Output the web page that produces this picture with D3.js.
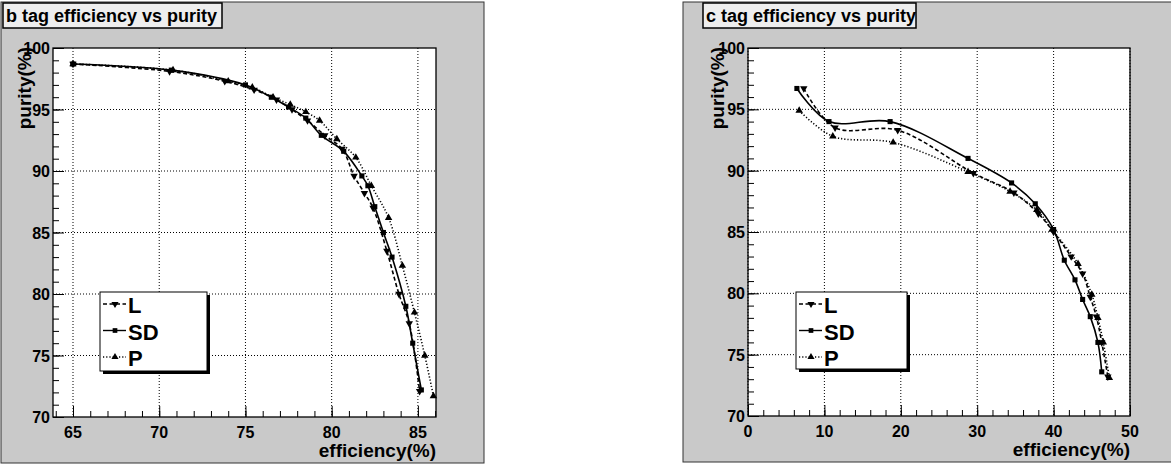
<!DOCTYPE html>
<html>
<head>
<meta charset="utf-8">
<script src="https://cdn.jsdelivr.net/npm/d3@7"></script>
<style>
  body { margin: 0; background: #fff; }
  text { font-family: "Liberation Sans", Arial, sans-serif; font-weight: bold; fill: #000; }
</style>
</head>
<body>
<svg id="chart" width="1171" height="466"></svg>
<script>
// b tag panel values
var bEffL  = [65.0, 70.6, 73.8, 75.5, 76.8, 77.7, 78.6, 79.6, 80.6, 81.3, 81.9, 82.4, 83.2, 83.9, 84.5, 85.1];
var bPurL  = [98.7, 98.1, 97.3, 96.6, 95.8, 95.0, 94.1, 92.9, 91.8, 89.6, 88.2, 87.0, 83.5, 80.0, 77.6, 72.1];
var bEffSD = [65.0, 70.7, 75.0, 76.5, 77.5, 78.5, 79.4, 80.7, 81.75, 82.1, 82.5, 83.0, 83.5, 84.3, 84.7, 85.2];
var bPurSD = [98.7, 98.2, 97.0, 96.0, 95.2, 94.3, 92.9, 91.6, 89.6, 88.8, 87.1, 85.0, 83.0, 79.0, 76.0, 72.2];
var bEffP  = [65.0, 70.8, 74.0, 75.4, 76.6, 77.6, 78.5, 79.3, 80.3, 81.4, 82.3, 83.3, 84.1, 84.8, 85.4, 85.9];
var bPurP  = [98.7, 98.2, 97.3, 96.8, 96.0, 95.4, 94.8, 94.1, 92.6, 91.1, 88.8, 86.2, 82.3, 78.5, 75.0, 71.7];

// c tag panel values
var cEffL  = [7.3, 11.4, 19.6, 29.5, 34.8, 38.0, 40.0, 42.3, 43.8, 44.8, 45.6, 46.3, 47.1];
var cPurL  = [96.7, 93.5, 93.3, 89.8, 88.2, 86.5, 85.0, 83.0, 81.6, 79.7, 78.1, 76.0, 73.2];
var cEffSD = [6.4, 10.6, 18.6, 28.8, 34.5, 37.6, 40.0, 41.4, 42.8, 43.8, 44.8, 45.8, 46.3];
var cPurSD = [96.7, 94.0, 94.0, 91.0, 89.0, 87.3, 85.2, 82.7, 81.1, 79.5, 78.1, 76.0, 73.6];
var cEffP  = [6.7, 11.1, 19.0, 28.8, 34.3, 37.8, 39.8, 43.2, 45.0, 45.8, 46.5, 47.3];
var cPurP  = [94.9, 92.8, 92.3, 89.9, 88.3, 86.8, 85.2, 82.4, 79.9, 78.0, 76.0, 73.1];

// tick labels
var bTicksX = [65, 70, 75, 80, 85];
var cTicksX = [0, 10, 20, 30, 40, 50];
var purTicks = [70, 75, 80, 85, 90, 95, 100];
var seriesNames = ["L", "SD", "P"];

var svg = d3.select("#chart");

var styles = {
  L:  { dash: "4,2.5", marker: d3.symbolTriangle, rot: 180 },
  SD: { dash: null,    marker: d3.symbolSquare,   rot: 0 },
  P:  { dash: "1.2,2", marker: d3.symbolTriangle, rot: 0 }
};

function drawPanel(cfg) {
  var g = svg.append("g");

  // canvas
  g.append("rect")
    .attr("x", cfg.canvas[0]).attr("y", cfg.canvas[1])
    .attr("width", cfg.canvas[2]).attr("height", cfg.canvas[3])
    .attr("fill", "#c9c9c9")
    .attr("stroke", "#333").attr("stroke-width", 1);

  var x = d3.scaleLinear().domain(cfg.xDomain).range([cfg.frame[0], cfg.frame[1]]);
  var y = d3.scaleLinear().domain([70, 100]).range([cfg.frame[3], cfg.frame[2]]);

  // frame
  g.append("rect")
    .attr("x", cfg.frame[0]).attr("y", cfg.frame[2])
    .attr("width", cfg.frame[1] - cfg.frame[0]).attr("height", cfg.frame[3] - cfg.frame[2])
    .attr("fill", "#fff");

  // grid
  g.selectAll(".gx").data(cfg.ticksX).enter().append("line")
    .attr("x1", d => x(d)).attr("x2", d => x(d))
    .attr("y1", cfg.frame[2]).attr("y2", cfg.frame[3])
    .attr("stroke", "#000").attr("stroke-width", 1).attr("stroke-dasharray", "1,2");
  g.selectAll(".gy").data(purTicks.slice(1, -1)).enter().append("line")
    .attr("x1", cfg.frame[0]).attr("x2", cfg.frame[1])
    .attr("y1", d => y(d)).attr("y2", d => y(d))
    .attr("stroke", "#000").attr("stroke-width", 1).attr("stroke-dasharray", "1,2");

  // axes with inward ticks
  var minorX = d3.range(cfg.xDomain[0], cfg.xDomain[1] + 0.001, cfg.minorStep)
    .map(d => Math.ceil(d / cfg.minorStep) * cfg.minorStep)
    .filter(d => d >= cfg.xDomain[0] && d <= cfg.xDomain[1]);
  var xAxis = d3.axisTop(x).tickValues(minorX).tickSize(6).tickFormat("");
  g.append("g")
    .attr("transform", "translate(0," + cfg.frame[3] + ")")
    .call(xAxis)
    .call(a => a.select(".domain").remove())
    .selectAll("line").attr("stroke", "#000");
  g.append("g")
    .attr("transform", "translate(0," + cfg.frame[3] + ")")
    .call(d3.axisTop(x).tickValues(cfg.ticksX).tickSize(11).tickFormat(""))
    .call(a => a.select(".domain").remove())
    .selectAll("line").attr("stroke", "#000");

  var yAxis = d3.axisRight(y).tickValues(d3.range(70, 101, 1)).tickSize(6).tickFormat("");
  g.append("g")
    .attr("transform", "translate(" + cfg.frame[0] + ",0)")
    .call(yAxis)
    .call(a => a.select(".domain").remove())
    .selectAll("line").attr("stroke", "#000");
  g.append("g")
    .attr("transform", "translate(" + cfg.frame[0] + ",0)")
    .call(d3.axisRight(y).tickValues(purTicks).tickSize(11).tickFormat(""))
    .call(a => a.select(".domain").remove())
    .selectAll("line").attr("stroke", "#000");

  // frame border
  g.append("rect")
    .attr("x", cfg.frame[0]).attr("y", cfg.frame[2])
    .attr("width", cfg.frame[1] - cfg.frame[0]).attr("height", cfg.frame[3] - cfg.frame[2])
    .attr("fill", "none").attr("stroke", "#000").attr("stroke-width", 1.3);

  // tick labels
  g.selectAll(".xl").data(cfg.ticksX).enter().append("text")
    .attr("x", d => x(d)).attr("y", cfg.frame[3] + 21)
    .attr("text-anchor", "middle")
    .style("font-size", "16px")
    .text(d => d);
  g.selectAll(".yl").data(purTicks).enter().append("text")
    .attr("x", cfg.frame[0] - 3).attr("y", d => y(d) + 6)
    .attr("text-anchor", "end")
    .style("font-size", "16px")
    .text(d => d);

  // axis titles
  g.append("text")
    .attr("x", cfg.frame[1]).attr("y", cfg.frame[3] + 40)
    .attr("text-anchor", "end")
    .style("font-size", "19px")
    .text("efficiency(%)");
  g.append("text")
    .attr("transform", "translate(" + (cfg.canvas[0] + cfg.ytitleX) + "," + (cfg.frame[2] - 1) + ") rotate(-90)")
    .attr("text-anchor", "end")
    .style("font-size", "19px")
    .text("purity(%)");

  // curves
  var line = d3.line()
    .x(d => x(d[0])).y(d => y(d[1]))
    .curve(d3.curveCatmullRom.alpha(0.5));

  cfg.series.forEach(function (s) {
    var st = styles[s.name];
    var pts = s.eff.map((e, i) => [e, s.pur[i]]);
    g.append("path")
      .datum(pts)
      .attr("d", line)
      .attr("fill", "none")
      .attr("stroke", "#000")
      .attr("stroke-width", 1.6)
      .attr("stroke-dasharray", st.dash);
    g.selectAll(null).data(pts).enter().append("path")
      .attr("d", d3.symbol().type(st.marker).size(s.name == "SD" ? 26 : 24))
      .attr("transform", d => "translate(" + x(d[0]) + "," + y(d[1]) + ") rotate(" + st.rot + ")")
      .attr("fill", "#000");
  });

  // title box
  var tb = cfg.titleBox;
  g.append("rect")
    .attr("x", tb[0]).attr("y", tb[1]).attr("width", tb[2]).attr("height", tb[3])
    .attr("fill", "#eeeeee").attr("stroke", "#000").attr("stroke-width", 1.5);
  g.append("text")
    .attr("x", tb[0] + 3).attr("y", tb[1] + 19)
    .style("font-size", "18px")
    .text(cfg.title);

  // legend
  var lb = cfg.legend;
  g.append("rect")
    .attr("x", lb[0] + 3).attr("y", lb[1] + 3).attr("width", lb[2]).attr("height", lb[3])
    .attr("fill", "#000");
  g.append("rect")
    .attr("x", lb[0]).attr("y", lb[1]).attr("width", lb[2]).attr("height", lb[3])
    .attr("fill", "#fff").attr("stroke", "#000").attr("stroke-width", 1);

  var leg = g.selectAll(".leg").data(seriesNames).enter().append("g")
    .attr("transform", (d, i) => "translate(" + lb[0] + "," + (lb[1] + 12 + i * 26.5) + ")");
  leg.append("line")
    .attr("x1", 3).attr("x2", 26).attr("y1", 0).attr("y2", 0)
    .attr("stroke", "#000").attr("stroke-width", 1.4)
    .attr("stroke-dasharray", d => styles[d].dash);
  leg.append("path")
    .attr("d", d => d3.symbol().type(styles[d].marker).size(22)())
    .attr("transform", d => "translate(15,0) rotate(" + styles[d].rot + ")")
    .attr("fill", "#000");
  leg.append("text")
    .attr("x", 28).attr("y", 9)
    .style("font-size", "22px")
    .attr("transform", "translate(0,0)")
    .text(d => d);
}

drawPanel({
  canvas: [1, 2, 483, 461],
  frame: [53, 436, 48, 417],
  xDomain: [63.84, 86.05],
  ticksX: bTicksX,
  minorStep: 1,
  ytitleX: 30,
  title: "b tag efficiency vs purity",
  titleBox: [3, 3, 219, 25],
  legend: [100, 292, 107, 79],
  series: [
    { name: "L", eff: bEffL, pur: bPurL },
    { name: "SD", eff: bEffSD, pur: bPurSD },
    { name: "P", eff: bEffP, pur: bPurP }
  ]
});

drawPanel({
  canvas: [683, 2, 490, 460],
  frame: [748, 1130, 48, 416],
  xDomain: [0, 50],
  ticksX: cTicksX,
  minorStep: 2,
  ytitleX: 41,
  title: "c tag efficiency vs purity",
  titleBox: [703, 3, 213, 25],
  legend: [796, 292, 111, 77],
  series: [
    { name: "L", eff: cEffL, pur: cPurL },
    { name: "SD", eff: cEffSD, pur: cPurSD },
    { name: "P", eff: cEffP, pur: cPurP }
  ]
});
</script>
</body>
</html>
